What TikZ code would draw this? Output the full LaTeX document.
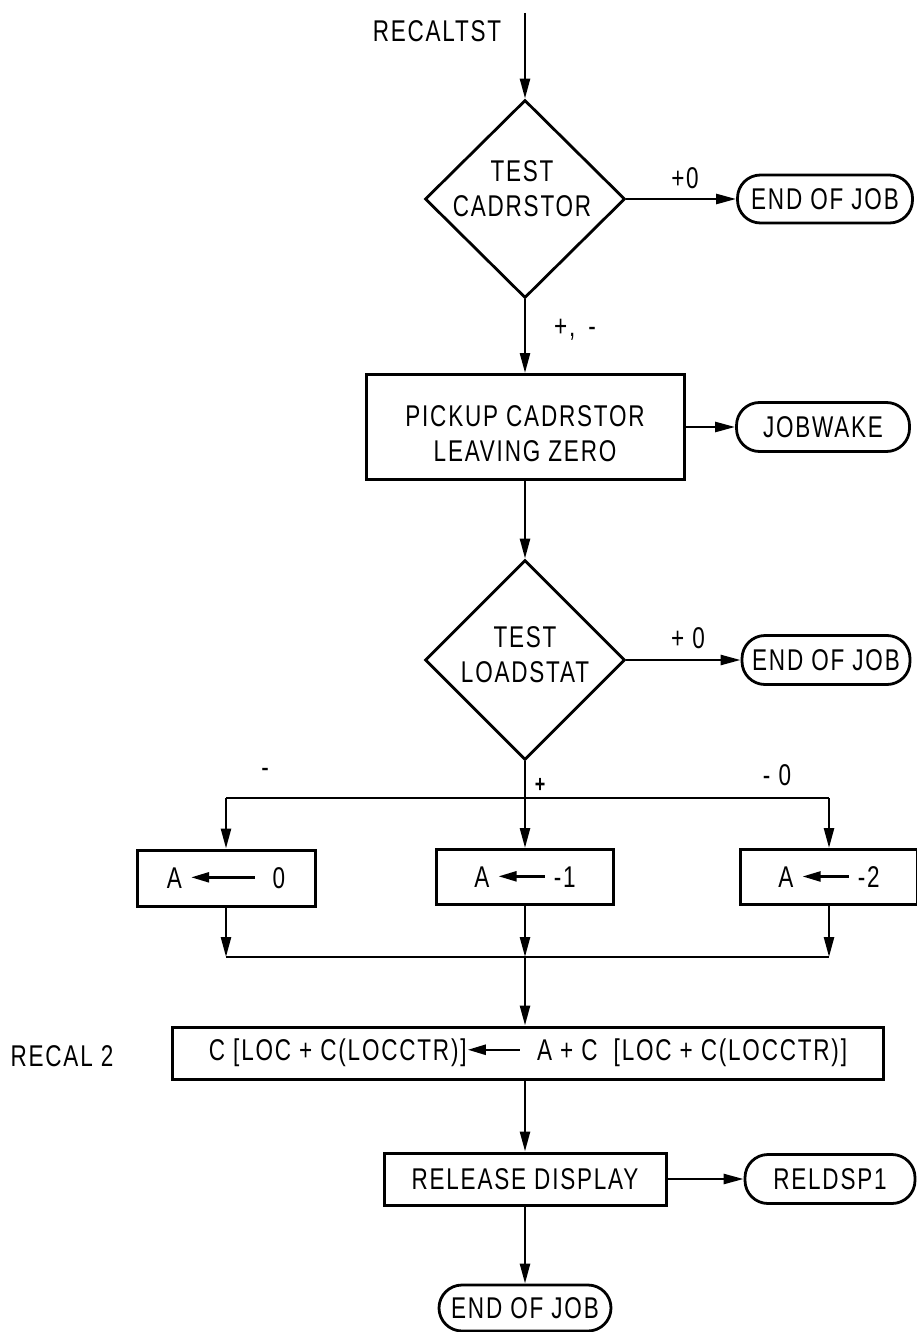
\documentclass[tikz,border=0pt]{standalone}
\usepackage{fontspec}
\setmainfont[FakeStretch=0.75,LetterSpace=6]{Liberation Sans}
\usetikzlibrary{shapes.geometric,arrows.meta}
\newcommand{\larr}[1][46]{\tikz[baseline={(0pt,-11pt)},x=1pt,y=1pt]\draw[{Triangle[length=18pt,width=10pt]}-,line width=2.4pt](0,0)--(#1,0);}
\begin{document}
\begin{tikzpicture}[x=1pt,y=-1pt,
  every node/.style={font=\fontsize{30}{35}\selectfont},
  proc/.style={draw,line width=3pt,rectangle,inner sep=0pt,align=center},
  term/.style={draw,line width=2.8pt,rectangle,rounded corners=23pt,inner sep=0pt,align=center},
  dec/.style={draw,diamond,line width=2.8pt,inner sep=0pt},
  conn/.style={line width=2.5pt},
  arr/.style={conn,-{Triangle[length=20pt,width=10pt]}},
  lab/.style={inner sep=0pt,align=center}]
\useasboundingbox (0,0) rectangle (917,1332);

% top
\node[lab] (lrec) at (437,31) {RECALTST};
\coordinate (start) at (525,13);
\node[dec,minimum width=200pt,minimum height=198pt] (d1) at (525,199) {};
\node[lab] (d1t) at (522,189) {TEST\\CADRSTOR};
\node[term,minimum width=175pt,minimum height=48pt] (e1) at (825,199) {END OF JOB};
\node[lab] (l1) at (685,178) {+0};
\node[lab] (l2) at (575,330) {+, \,-};

\node[proc,minimum width=318pt,minimum height=105pt] (p1) at (525,427) {};
\node[lab] (p1t) at (525,434) {PICKUP CADRSTOR\\LEAVING ZERO};
\node[term,minimum width=173pt,minimum height=49pt] (jw) at (823,427) {JOBWAKE};

\node[dec,minimum width=200pt,minimum height=200pt] (d2) at (525,660) {};
\node[lab] (d2t) at (525,655) {TEST\\LOADSTAT};
\node[term,minimum width=168pt,minimum height=49pt] (e2) at (826,660) {END OF JOB};
\node[lab] (l3) at (688,638) {+ 0};

% branches
\coordinate (br) at (525,798);
\coordinate (bl) at (226,798);
\coordinate (brr) at (829,798);
\node[lab] (lm) at (265,773) {-};
\node[lab,font=\fontsize{24}{28}\selectfont\bfseries] (lp) at (540,785) {+};
\node[lab] (lm0) at (777,775) {- 0};

\node[proc,minimum width=178pt,minimum height=56pt] (a0) at (226,878) {A \larr[64]\ \ 0};
\node[proc,minimum width=177pt,minimum height=55pt] (a1) at (525,877) {A \larr\ -1};
\node[proc,minimum width=177pt,minimum height=55pt] (a2) at (829,877) {A \larr\ -2};

\coordinate (ml) at (226,957);
\coordinate (mc) at (525,957);
\coordinate (mr) at (829,957);

\node[lab] (lr2) at (62,1056) {RECAL 2};
\node[proc,minimum width=711pt,minimum height=52pt] (r2) at (528,1053) {C [LOC + C(LOCCTR)]\larr[52]\ \ A + C \ [LOC + C(LOCCTR)]};

\node[proc,minimum width=282pt,minimum height=52pt] (rel) at (525,1179) {RELEASE DISPLAY};
\node[term,minimum width=170pt,minimum height=49pt] (rd) at (830,1179) {RELDSP1};
\node[term,minimum width=172pt,minimum height=46pt] (e3) at (525,1308) {END OF JOB};

% connectors
\draw[arr] (start) -- (d1.north);
\draw[arr] (d1.east) -- (e1.west);
\draw[arr] (d1.south) -- (p1.north);
\draw[arr] (p1.east) -- (jw.west);
\draw[arr] (p1.south) -- (d2.north);
\draw[arr] (d2.east) -- (e2.west);
\draw[conn] (d2.south) -- (br);
\draw[conn] (bl) -- (brr);
\draw[arr] (bl) -- (a0.north);
\draw[arr] (br) -- (a1.north);
\draw[arr] (brr) -- (a2.north);
\draw[arr] (a0.south) -- (ml);
\draw[arr] (a1.south) -- (mc);
\draw[arr] (a2.south) -- (mr);
\draw[conn] (ml) -- (mr);
\draw[arr] (mc) -- (mc |- r2.north);
\draw[arr] (r2.south -| mc) -- (rel.north);
\draw[arr] (rel.east) -- (rd.west);
\draw[arr] (rel.south) -- (e3.north);
\end{tikzpicture}
\end{document}
